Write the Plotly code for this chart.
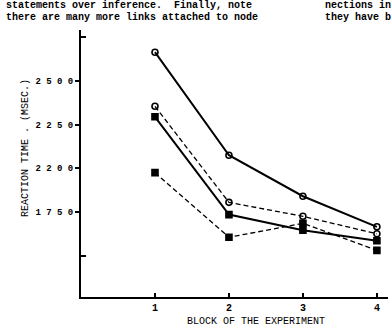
import plotly.graph_objects as go

blocks = [1, 2, 3, 4]
series_a = [2665, 2075, 1840, 1665]   # solid, open circles
series_b = [2355, 1805, 1725, 1625]   # dashed, open circles
series_c = [2295, 1735, 1645, 1585]   # solid, filled squares
series_d = [1975, 1605, 1685, 1530]   # dashed, filled squares

y_tickvals = [2500, 2250, 2000, 1750]
y_ticktext = ["<b>2 5 0 0</b>", "<b>2 2 5 0</b>", "<b>2 2 0 0</b>", "<b>1 7 5 0</b>"]
y_minor_ticks = [2750, 1500]
x_ticktext = ["<b>1</b>", "<b>2</b>", "<b>3</b>", "<b>4</b>"]

FONT = "Liberation Mono"
W, H = 392, 330
L, R, T, B = 81, 4, 30, 33
PW, PH = W - L - R, H - T - B

def px(x):
    return (x - L) / PW

def py(y):
    return (H - B - y) / PH

fig = go.Figure()

styles = [
    (series_a, "solid", 2, "circle-open"),
    (series_b, "5px,3px", 1.3, "circle-open"),
    (series_c, "solid", 2, "square"),
    (series_d, "5px,3px", 1.3, "square"),
]
for vals, dash, w, sym in styles:
    fig.add_trace(go.Scatter(
        x=blocks, y=vals, mode="lines+markers",
        line=dict(color="black", width=w, dash=dash),
        marker=dict(symbol=sym, size=6, color="black",
                    line=dict(color="black", width=1.6)),
        showlegend=False,
    ))

fig.add_trace(go.Scatter(x=[None], y=[None], yaxis="y2", showlegend=False))

fig.update_layout(
    width=W, height=H,
    margin=dict(l=L, r=R, t=T, b=B),
    paper_bgcolor="white", plot_bgcolor="white",
    font=dict(family=FONT, color="black"),
    xaxis=dict(
        range=[0, 4.15], showgrid=False, zeroline=False,
        showline=True, linecolor="black", linewidth=2,
        tickvals=blocks, ticktext=x_ticktext,
        ticks="inside", ticklen=4, tickwidth=1.5, tickcolor="black",
        tickfont=dict(family=FONT, size=10, color="black"),
    ),
    yaxis=dict(
        range=[1263, 2792], showgrid=False, zeroline=False,
        showline=True, linecolor="black", linewidth=2,
        tickvals=y_tickvals, ticktext=y_ticktext,
        ticks="outside", ticklen=4, tickwidth=2, tickcolor="black",
        tickfont=dict(family=FONT, size=9, color="black"),
    ),
    yaxis2=dict(
        range=[1263, 2792], overlaying="y", side="left",
        showgrid=False, zeroline=False, showline=False,
        tickvals=y_minor_ticks, showticklabels=False,
        ticks="inside", ticklen=5, tickwidth=2, tickcolor="black",
    ),
)

annos = [
    dict(text="REACTION TIME . (MSEC.)", x=px(25), y=py(148), textangle=-90,
         font=dict(size=10)),
    dict(text="BLOCK OF THE EXPERIMENT", x=px(256), y=py(321),
         font=dict(size=10)),
    dict(text="<b>statements over inference.  Finally, note</b>", x=px(4), y=py(5),
         xanchor="left", font=dict(size=10)),
    dict(text="<b>there are many more links attached to node</b>", x=px(4), y=py(17),
         xanchor="left", font=dict(size=10)),
    dict(text="<b>nections in</b>", x=px(323), y=py(5), xanchor="left",
         font=dict(size=10)),
    dict(text="<b>they have b</b>", x=px(323), y=py(17), xanchor="left",
         font=dict(size=10)),
]
for a in annos:
    a.setdefault("xanchor", "center")
    fig.add_annotation(xref="paper", yref="paper", showarrow=False,
                       yanchor="middle", **a)

fig.write_html("out.html")
